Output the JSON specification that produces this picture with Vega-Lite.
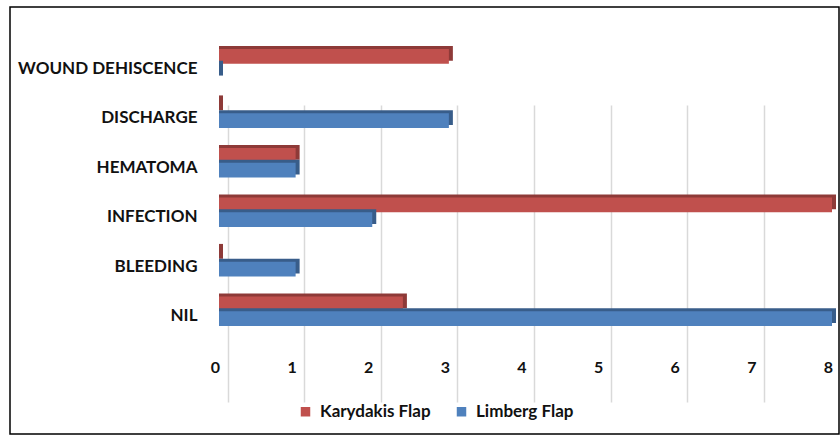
{
  "$schema": "https://vega.github.io/schema/vega-lite/v6.json",
  "width": 829,
  "height": 427,
  "autosize": {"type": "none"},
  "padding": {"left": 10, "top": 7, "right": 1, "bottom": 1},
  "background": "white",
  "config": {
    "view": {"stroke": "#000000", "strokeWidth": 1.5},
    "font": "Lato"
  },
  "data": {
    "values": [
      {"category": "WOUND DEHISCENCE", "series": "Karydakis Flap", "value": 3},
      {"category": "WOUND DEHISCENCE", "series": "Limberg Flap", "value": 0},
      {"category": "DISCHARGE", "series": "Karydakis Flap", "value": 0},
      {"category": "DISCHARGE", "series": "Limberg Flap", "value": 3},
      {"category": "HEMATOMA", "series": "Karydakis Flap", "value": 1},
      {"category": "HEMATOMA", "series": "Limberg Flap", "value": 1},
      {"category": "INFECTION", "series": "Karydakis Flap", "value": 8},
      {"category": "INFECTION", "series": "Limberg Flap", "value": 2},
      {"category": "BLEEDING", "series": "Karydakis Flap", "value": 0},
      {"category": "BLEEDING", "series": "Limberg Flap", "value": 1},
      {"category": "NIL", "series": "Karydakis Flap", "value": 2.4},
      {"category": "NIL", "series": "Limberg Flap", "value": 8}
    ]
  },
  "encoding": {
    "y": {
      "field": "category",
      "type": "nominal",
      "sort": ["WOUND DEHISCENCE", "DISCHARGE", "HEMATOMA", "INFECTION", "BLEEDING", "NIL"],
      "scale": {"range": [32, 329], "paddingInner": 0.4, "paddingOuter": 0.2},
      "axis": {
        "orient": "left",
        "offset": -190,
        "domain": false,
        "ticks": false,
        "grid": false,
        "labelOffset": 5,
        "labelPadding": 3,
        "labelFont": "Lato",
        "labelFontSize": 17,
        "labelFontWeight": "bold",
        "labelColor": "#111111",
        "title": null
      }
    },
    "x": {
      "field": "value",
      "type": "quantitative",
      "scale": {"domain": [0, 8], "range": [209, 822], "nice": false},
      "axis": {
        "orient": "bottom",
        "offset": -80,
        "values": [0, 1, 2, 3, 4, 5, 6, 7, 8],
        "domain": false,
        "ticks": false,
        "grid": true,
        "gridColor": "#D9D9D9",
        "gridWidth": 1.5,
        "tickOffset": 8.5,
        "labelOffset": -12.5,
        "labelFlush": false,
        "labelPadding": 5,
        "labelFont": "Lato",
        "labelFontSize": 16,
        "labelFontWeight": "bold",
        "labelColor": "#111111",
        "title": null
      }
    },
    "x2": {"datum": 0}
  },
  "layer": [
    {
      "transform": [{"filter": "datum.series === 'Karydakis Flap'"}],
      "mark": {"type": "bar", "color": "#8E3A38", "height": {"band": 0.5}, "yOffset": -10.4, "xOffset": 4}
    },
    {
      "transform": [{"filter": "datum.series === 'Karydakis Flap'"}],
      "mark": {"type": "bar", "height": {"band": 0.5}, "yOffset": -7.4},
      "encoding": {
        "color": {
          "field": "series",
          "type": "nominal",
          "scale": {"domain": ["Karydakis Flap", "Limberg Flap"], "range": ["#C0504D", "#4F81BD"]},
          "legend": {
            "title": null,
            "orient": "none",
            "legendX": 287,
            "legendY": 396,
            "direction": "horizontal",
            "symbolType": "square",
            "symbolSize": 90,
            "symbolStrokeWidth": 0,
            "labelFont": "Lato",
            "labelFontSize": 17,
            "labelFontWeight": "bold",
            "labelColor": "#111111",
            "labelOffset": 6,
            "columnPadding": 22
          }
        }
      }
    },
    {
      "transform": [{"filter": "datum.series === 'Limberg Flap'"}],
      "mark": {"type": "bar", "color": "#385D8A", "height": {"band": 0.5}, "yOffset": 4.4, "xOffset": 4}
    },
    {
      "transform": [{"filter": "datum.series === 'Limberg Flap'"}],
      "mark": {"type": "bar", "height": {"band": 0.5}, "yOffset": 7.4},
      "encoding": {
        "color": {"field": "series", "type": "nominal"}
      }
    }
  ]
}
